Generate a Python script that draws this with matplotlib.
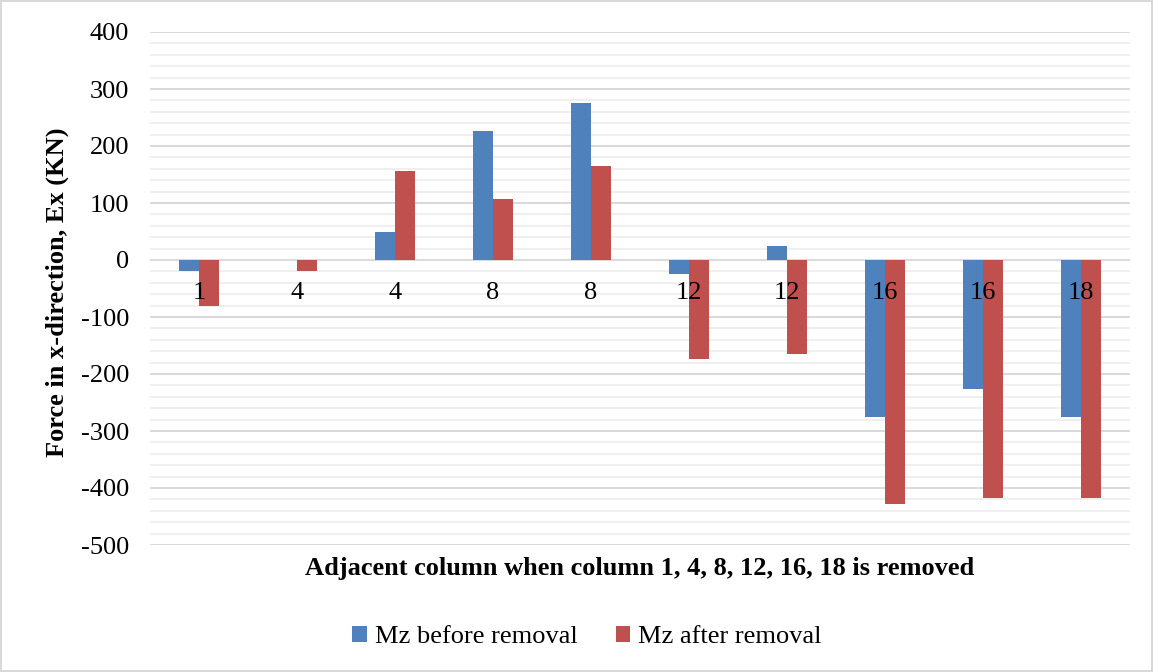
import matplotlib
matplotlib.use("Agg")
import matplotlib.pyplot as plt
import numpy as np
from matplotlib.transforms import offset_copy
from matplotlib.ticker import FuncFormatter

plt.rcParams['font.family'] = ['Liberation Serif', 'DejaVu Serif']

categories = ["1", "4", "4", "8", "8", "12", "12", "16", "16", "18"]
mz_before = [-20, 0, 50, 226, 275, -25, 25, -275, -227, -275]
mz_after = [-80, -20, 157, 107, 165, -174, -165, -428, -417, -417]
series_names = ["Mz before removal", "Mz after removal"]
colors = ["#4f81bd", "#c0504d"]

fig = plt.figure(figsize=(11.53, 6.72), dpi=100)
fig.patch.set_edgecolor("#d9d9d9")
fig.patch.set_linewidth(1.5)
ax = fig.add_axes([150 / 1153, 1 - 545 / 672, 980 / 1153, 513 / 672])

x = np.arange(len(categories))
w = 0.2
ax.bar(x - w / 2, mz_before, w, color=colors[0], label=series_names[0], zorder=3)
ax.bar(x + w / 2, mz_after, w, color=colors[1], label=series_names[1], zorder=3)

ax.set_xlim(-0.5, len(categories) - 0.5)
ax.set_ylim(-500, 400)
ax.set_yticks(np.arange(-500, 401, 100))
ax.set_yticks(np.arange(-500, 401, 20), minor=True)
ax.yaxis.set_major_formatter(FuncFormatter(lambda v, p: f"{int(v)}"))
ax.grid(axis="y", which="major", color="#d9d9d9", linewidth=1.4, zorder=0)
ax.grid(axis="y", which="minor", color="#efefef", linewidth=1.4, zorder=0)
ax.tick_params(axis="y", which="both", length=0, pad=15, labelsize=19)
ax.set_xticks([])
for s in ax.spines.values():
    s.set_visible(False)

# category labels sit just under the zero line
trans = offset_copy(ax.transData, fig=fig, x=0, y=-33, units="dots")
for xi, lab in zip(x, categories):
    ax.text(xi, 0, lab, transform=trans, ha="center", va="center", fontsize=19, zorder=4)

fig.text(57 / 1153, 1 - 292 / 672, "Force in x-direction, Ex (KN)", rotation=90,
         ha="center", va="center", fontsize=19, fontweight="bold")
fig.text(640 / 1153, 1 - 568 / 672, "Adjacent column when column 1, 4, 8, 12, 16, 18 is removed",
         ha="center", va="center", fontsize=19, fontweight="bold")

fig.legend(loc="center", bbox_to_anchor=(587 / 1153, 1 - 637 / 672), ncol=2, frameon=False,
           fontsize=19, handlelength=0.55, handleheight=0.55, columnspacing=1.45, handletextpad=0.3)

fig.savefig("out.png", dpi=100, edgecolor=fig.get_edgecolor())
